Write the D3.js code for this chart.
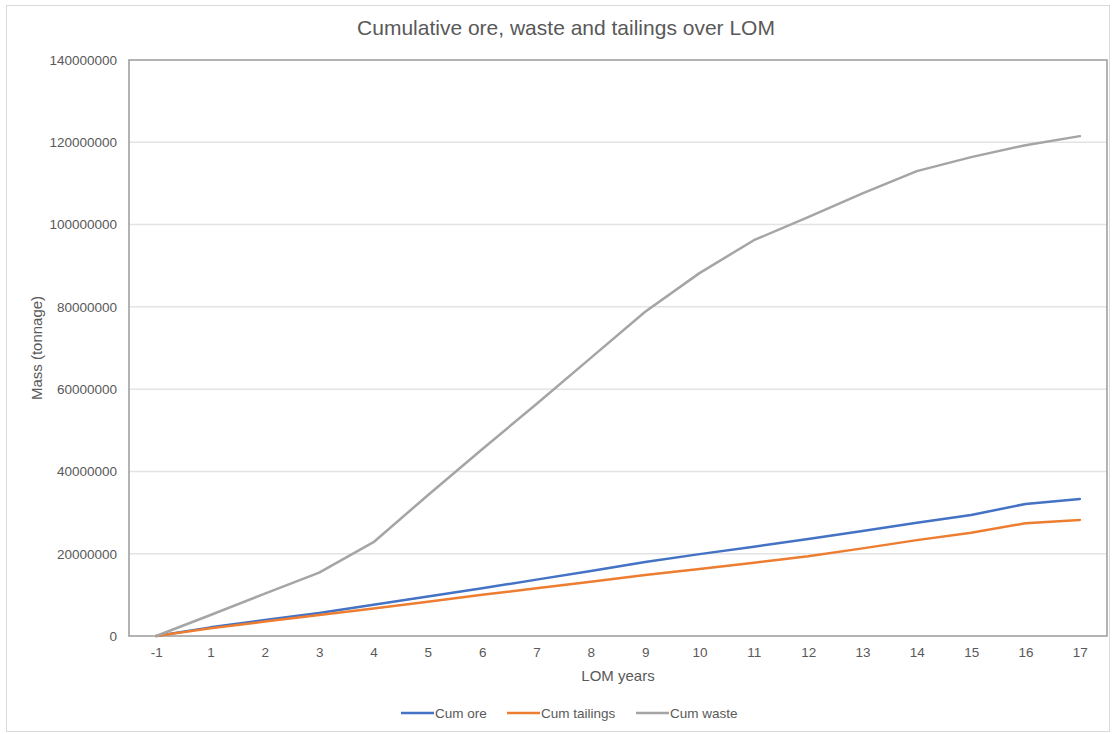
<!DOCTYPE html>
<html>
<head>
<meta charset="utf-8">
<script src="https://cdn.jsdelivr.net/npm/d3@7"></script>
<style>
  html, body { margin: 0; padding: 0; background: #fff; }
  svg { display: block; font-family: "Liberation Sans", Arial, sans-serif; }
</style>
</head>
<body>
<svg id="chart" width="1113" height="734"></svg>
<script>
const years = ["-1","1","2","3","4","5","6","7","8","9","10","11","12","13","14","15","16","17"];
const cumOre = [0, 2100000, 3900000, 5600000, 7600000, 9600000, 11600000, 13700000, 15800000, 18000000, 19900000, 21700000, 23600000, 25500000, 27500000, 29400000, 32100000, 33300000];
const cumTailings = [0, 1900000, 3500000, 5100000, 6700000, 8300000, 10000000, 11600000, 13200000, 14800000, 16300000, 17800000, 19400000, 21300000, 23300000, 25100000, 27400000, 28200000];
const cumWaste = [0, 5100000, 10300000, 15400000, 22800000, 34200000, 45400000, 56400000, 67600000, 78800000, 88200000, 96200000, 101800000, 107600000, 113000000, 116400000, 119300000, 121500000];
const yTicks = [0, 20000000, 40000000, 60000000, 80000000, 100000000, 120000000, 140000000];
const seriesNames = ["Cum ore", "Cum tailings", "Cum waste"];
const seriesColors = ["#4472C4", "#ED7D31", "#A5A5A5"];

const series = [cumOre, cumTailings, cumWaste].map((vals, i) => ({
  name: seriesNames[i], color: seriesColors[i],
  points: vals.map((v, j) => ({ year: years[j], value: v }))
}));

const svg = d3.select("#chart");
const pLeft = 129, pRight = 1107, pTop = 60, pBottom = 636;
const textColor = "#595959";

// outer chart border
svg.append("rect").attr("x", 6.5).attr("y", 5.5).attr("width", 1103).attr("height", 726)
  .attr("fill", "#fff").attr("stroke", "#d9d9d9").attr("stroke-width", 1);

const x = d3.scalePoint().domain(years).range([pLeft, pRight]).padding(0.5);
const y = d3.scaleLinear().domain([0, 140000000]).range([pBottom, pTop]);

// gridlines
svg.append("g").selectAll("line").data(yTicks.slice(1, -1)).join("line")
  .attr("x1", pLeft).attr("x2", pRight)
  .attr("y1", d => y(d)).attr("y2", d => y(d))
  .attr("stroke", "#e3e3e3").attr("stroke-width", 1.5);

// plot area box
svg.append("rect").attr("x", pLeft).attr("y", pTop).attr("width", pRight - pLeft).attr("height", pBottom - pTop)
  .attr("fill", "none").attr("stroke", "#9a9a9a").attr("stroke-width", 1.5);

// y axis
const yAxis = d3.axisLeft(y).tickValues(yTicks).tickSize(0).tickPadding(12).tickFormat(d3.format("d"));
const gy = svg.append("g").attr("transform", `translate(${pLeft},0)`).call(yAxis);
gy.select(".domain").remove();
gy.selectAll("text").attr("fill", textColor).style("font-size", "13.5px").style("font-family", "'Liberation Sans', Arial, sans-serif");

// x axis
const xAxis = d3.axisBottom(x).tickSize(0).tickPadding(11);
const gx = svg.append("g").attr("transform", `translate(0,${pBottom})`).call(xAxis);
gx.select(".domain").remove();
gx.selectAll("text").attr("fill", textColor).style("font-size", "13.5px").style("font-family", "'Liberation Sans', Arial, sans-serif");

// lines
const line = d3.line().x(d => x(d.year)).y(d => y(d.value));
svg.append("g").selectAll("path").data(series).join("path")
  .attr("d", d => line(d.points))
  .attr("fill", "none").attr("stroke", d => d.color)
  .attr("stroke-width", 2.5).attr("stroke-linejoin", "round").attr("stroke-linecap", "round");

// title
svg.append("text").attr("x", 566).attr("y", 35).attr("text-anchor", "middle")
  .attr("fill", textColor).style("font-size", "21px").text("Cumulative ore, waste and tailings over LOM");

// axis titles
svg.append("text").attr("x", (pLeft + pRight) / 2).attr("y", 681).attr("text-anchor", "middle")
  .attr("fill", textColor).style("font-size", "15px").text("LOM years");
svg.append("text").attr("transform", `translate(42,${(pTop + pBottom) / 2}) rotate(-90)`)
  .attr("text-anchor", "middle").attr("fill", textColor).style("font-size", "15px").text("Mass (tonnage)");

// legend
const legendX = [401, 507, 636];
const lg = svg.append("g").selectAll("g").data(series).join("g")
  .attr("transform", (d, i) => `translate(${legendX[i]},713)`);
lg.append("line").attr("x1", 0).attr("x2", 33).attr("y1", 0).attr("y2", 0)
  .attr("stroke", d => d.color).attr("stroke-width", 2.5);
lg.append("text").attr("x", 34).attr("y", 4.5).attr("fill", textColor)
  .style("font-size", "13.5px").text(d => d.name);
</script>
</body>
</html>
